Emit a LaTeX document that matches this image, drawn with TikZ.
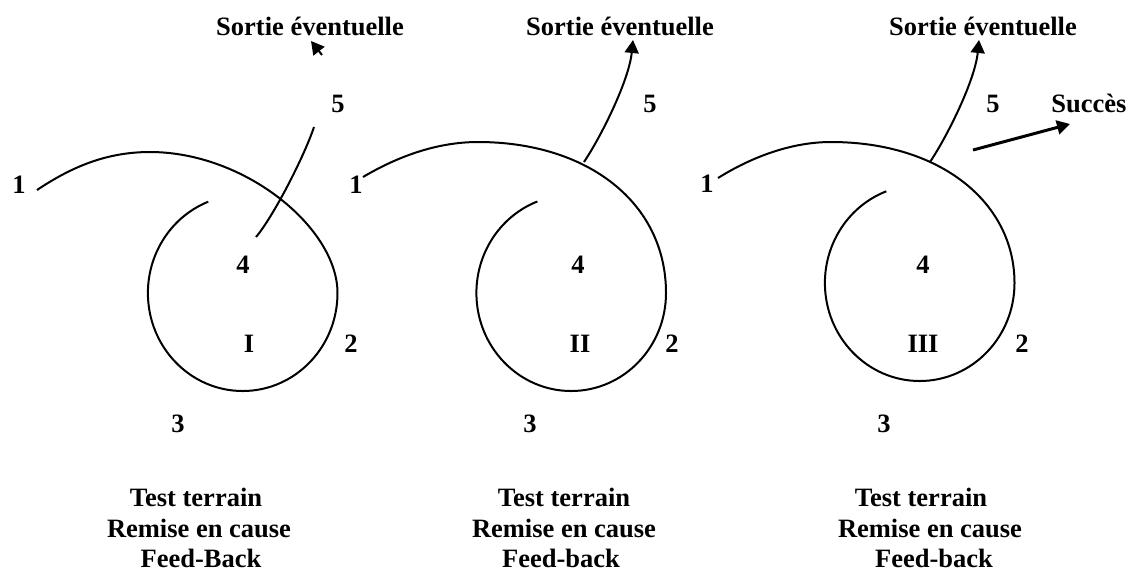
\documentclass[tikz,border=0pt]{standalone}
\usepackage{fontspec}
\setmainfont{Liberation Serif}
\usetikzlibrary{arrows.meta}

\begin{document}
\begin{tikzpicture}[x=0.5pt,y=-0.5pt,line width=1pt,
  lbl/.style={font=\fontsize{13.25}{15.5}\selectfont\bfseries,anchor=base,inner sep=0pt},
  loop/.style={x radius=47.4pt,y radius=49pt},
  exitarrow/.style={-{Triangle[length=6.5pt,width=7pt]}}]
  \useasboundingbox (0,0) rectangle (1129,570);
  % Three spirals: I, II, III (outer arc, then the loop back inside)
  \draw (37,190) .. controls (70,168) and (105,152) .. (150,152)
    .. controls (245,152) and (337.5,228) .. (337.5,293)
    arc[loop,start angle=0,end angle=-248.7];
  \draw (363,177) .. controls (395,158) and (435,142) .. (478,142)
    .. controls (588,142) and (666,203) .. (666,293)
    arc[loop,start angle=0,end angle=-249.1];
  \draw (718,178) .. controls (750,158) and (790,142) .. (831,142)
    .. controls (941,142) and (1014.5,203) .. (1014.5,283)
    arc[loop,start angle=0,end angle=-249.4];
  % Exits
  \coordinate (outI) at (256,237);
  \coordinate (tipI) at (314,127);
  \coordinate (strayI) at (322,55);
  \coordinate (strayItip) at (311,41);
  \coordinate (outII) at (584,162);
  \coordinate (tipII) at (633,40);
  \coordinate (outIII) at (930,162);
  \coordinate (tipIII) at (979,40);
  \coordinate (winIII) at (973,150);
  \coordinate (winIIItip) at (1070,124);
  \draw (outI) .. controls (273,217) and (304,157) .. (tipI);
  \draw[exitarrow] (strayI) -- (strayItip);
  \draw[exitarrow] (outII) .. controls (602,135) and (629,80) .. (tipII);
  \draw[exitarrow] (outIII) .. controls (948,135) and (975,80) .. (tipIII);
  \draw[exitarrow,line width=1.5pt] (winIII) -- (winIIItip);
  % Labels of spiral I
  \node[lbl] (sortieI) at (310,35) {Sortie éventuelle};
  \node[lbl] (oneI) at (19,193) {1};
  \node[lbl] (fiveI) at (338,112) {5};
  \node[lbl] (fourI) at (243,273) {4};
  \node[lbl] (romI) at (249,352) {I};
  \node[lbl] (twoI) at (351,352) {2};
  \node[lbl] (threeI) at (178,432) {3};
  \node[lbl] (testI) at (196,506) {Test terrain};
  \node[lbl] (remI) at (199,537) {Remise en cause};
  \node[lbl] (feedI) at (201,567) {Feed-Back};
  % Labels of spiral II
  \node[lbl] (sortieII) at (620,35) {Sortie éventuelle};
  \node[lbl] (oneII) at (356,193) {1};
  \node[lbl] (fiveII) at (650,112) {5};
  \node[lbl] (fourII) at (578,273) {4};
  \node[lbl] (romII) at (580,352) {II};
  \node[lbl] (twoII) at (672,352) {2};
  \node[lbl] (threeII) at (530,432) {3};
  \node[lbl] (testII) at (564,506) {Test terrain};
  \node[lbl] (remII) at (564,537) {Remise en cause};
  \node[lbl] (feedII) at (561,567) {Feed-back};
  % Labels of spiral III
  \node[lbl] (sortieIII) at (983,35) {Sortie éventuelle};
  \node[lbl] (oneIII) at (707,192) {1};
  \node[lbl] (fiveIII) at (993,112) {5};
  \node[lbl] (succes) at (1089,112) {Succès};
  \node[lbl] (fourIII) at (923,273) {4};
  \node[lbl] (romIII) at (923,352) {III};
  \node[lbl] (twoIII) at (1022,352) {2};
  \node[lbl] (threeIII) at (884,432) {3};
  \node[lbl] (testIII) at (921,506) {Test terrain};
  \node[lbl] (remIII) at (930,537) {Remise en cause};
  \node[lbl] (feedIII) at (934,567) {Feed-back};
\end{tikzpicture}
\end{document}
